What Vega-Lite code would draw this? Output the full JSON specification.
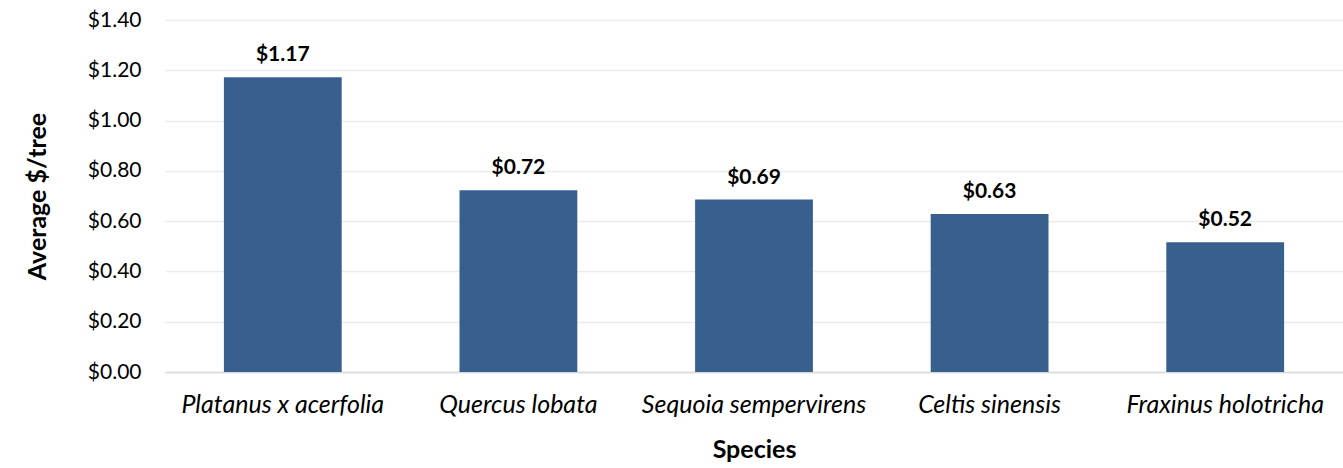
{
  "$schema": "https://vega.github.io/schema/vega-lite/v6.json",
  "autosize": "none",
  "width": 1178,
  "height": 352,
  "padding": {"left": 165, "top": 20, "right": 0, "bottom": 96},
  "background": "white",
  "config": {
    "font": "Lato",
    "view": {"stroke": null}
  },
  "data": {
    "values": [
      {"species": "Platanus x acerfolia", "value": 1.172},
      {"species": "Quercus lobata", "value": 0.723},
      {"species": "Sequoia sempervirens", "value": 0.686},
      {"species": "Celtis sinensis", "value": 0.628},
      {"species": "Fraxinus holotricha", "value": 0.516}
    ]
  },
  "encoding": {
    "x": {
      "field": "species",
      "type": "nominal",
      "sort": null,
      "title": "Species",
      "scale": {"paddingInner": 0.5, "paddingOuter": 0.25},
      "axis": {
        "labelAngle": 0,
        "labelLimit": 0,
        "labelFont": "Lato",
        "labelFontStyle": "italic",
        "labelFontSize": 25,
        "labelColor": "#000000",
        "labelPadding": 20,
        "ticks": false,
        "domainColor": "#d9d9d9",
        "domainWidth": 1.5,
        "titleFont": "Lato",
        "titleFontSize": 25,
        "titleFontWeight": "bold",
        "titleColor": "#000000",
        "titlePadding": 20
      }
    },
    "y": {
      "field": "value",
      "type": "quantitative",
      "title": "Average $/tree",
      "scale": {"domain": [0, 1.4], "nice": false},
      "axis": {
        "values": [0, 0.2, 0.4, 0.6, 0.8, 1.0, 1.2, 1.4],
        "format": "$.2f",
        "labelFont": "Lato",
        "labelFontSize": 21,
        "labelColor": "#000000",
        "labelPadding": 24,
        "ticks": false,
        "domain": false,
        "grid": true,
        "gridColor": "#ebebeb",
        "gridWidth": 1.5,
        "titleFont": "Lato",
        "titleFontSize": 25,
        "titleFontWeight": "bold",
        "titleColor": "#000000",
        "titlePadding": 37
      }
    }
  },
  "layer": [
    {
      "mark": {"type": "bar", "color": "#37608f"}
    },
    {
      "mark": {"type": "text", "baseline": "bottom", "dy": -12, "fontSize": 21, "fontWeight": "bold", "font": "Lato", "color": "#000000"},
      "encoding": {
        "text": {"field": "value", "type": "quantitative", "format": "$.2f"}
      }
    }
  ]
}
